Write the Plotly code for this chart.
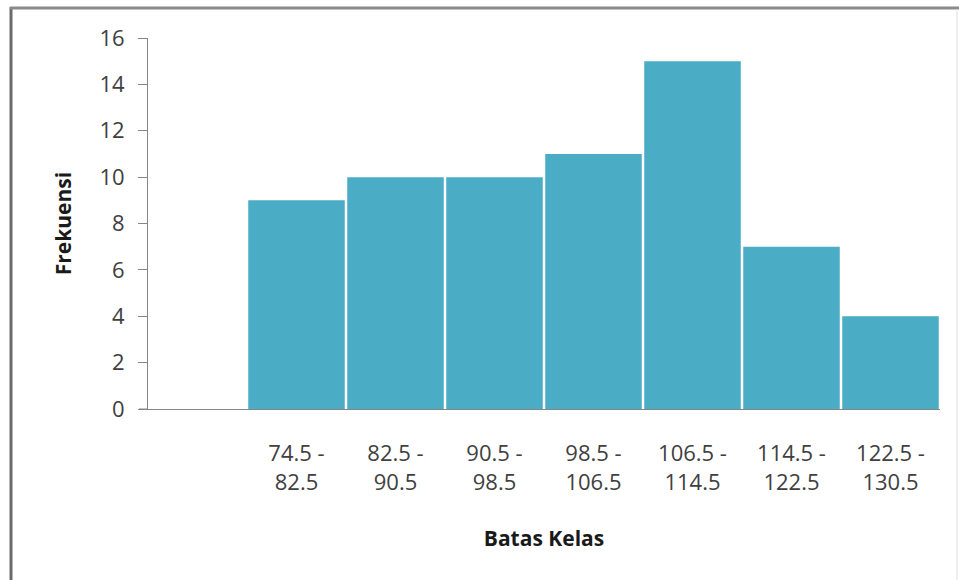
import plotly.graph_objects as go

# Frequency distribution: class boundaries and counts
class_labels = ["74.5 -<br>82.5", "82.5 -<br>90.5", "90.5 -<br>98.5", "98.5 -<br>106.5",
                "106.5 -<br>114.5", "114.5 -<br>122.5", "122.5 -<br>130.5"]
frequencies = [9, 10, 10, 11, 15, 7, 4]
y_ticks = [0, 2, 4, 6, 8, 10, 12, 14, 16]

# Slot 0 is left empty, classes occupy slots 1..7
positions = list(range(1, len(class_labels) + 1))

W, H = 959, 580
L, R, T, B = 148, 19, 38, 171
pw, ph = W - L - R, H - T - B


def px(x):
    return (x - L) / pw


def py(y):
    return (H - B - y) / ph


fig = go.Figure(go.Bar(
    x=positions,
    y=frequencies,
    marker=dict(color="#4BACC6", line=dict(width=0)),
    width=0.975,
))

tick_font = dict(family="Open Sans", size=22, color="#404040")
title_font = dict(family="Open Sans", size=21, color="#1a1a1a")

fig.update_layout(
    width=W, height=H,
    margin=dict(l=L, r=R, t=T, b=B),
    paper_bgcolor="white",
    plot_bgcolor="white",
    showlegend=False,
    xaxis=dict(
        range=[-0.5, 7.5],
        tickmode="array",
        tickvals=positions,
        ticktext=class_labels,
        tickfont=tick_font,
        ticks="",
        ticklabelstandoff=25,
        showgrid=False,
        zeroline=False,
        showline=True,
        linecolor="#868686",
        linewidth=1,
        title=dict(text="<b>Batas Kelas</b>", font=title_font, standoff=36),
        automargin=False,
    ),
    yaxis=dict(
        range=[0, 16],
        tickmode="array",
        tickvals=y_ticks,
        tickfont=tick_font,
        ticks="outside",
        ticklen=9,
        tickcolor="#868686",
        ticklabelstandoff=9,
        showgrid=False,
        zeroline=False,
        showline=True,
        linecolor="#868686",
        linewidth=1,
        title=dict(text="<b>Frekuensi</b>", font=title_font, standoff=22),
        automargin=False,
    ),
    shapes=[
        # chart frame
        dict(type="line", xref="paper", yref="paper", x0=px(11), x1=px(11), y0=py(7), y1=py(H + 5),
             line=dict(color="#6b6b6b", width=3)),
        dict(type="line", xref="paper", yref="paper", x0=px(10), x1=px(W + 5), y0=py(8), y1=py(8),
             line=dict(color="#8a8a8a", width=3)),
        dict(type="line", xref="paper", yref="paper", x0=px(957), x1=px(957), y0=py(9), y1=py(H + 5),
             line=dict(color="#e0e0e0", width=1)),
        # short stub of the category axis to the left of the value axis
        dict(type="line", xref="paper", yref="y", x0=px(139), x1=0, y0=0, y1=0,
             line=dict(color="#868686", width=1)),
    ],
)

fig.write_html("out.html")
